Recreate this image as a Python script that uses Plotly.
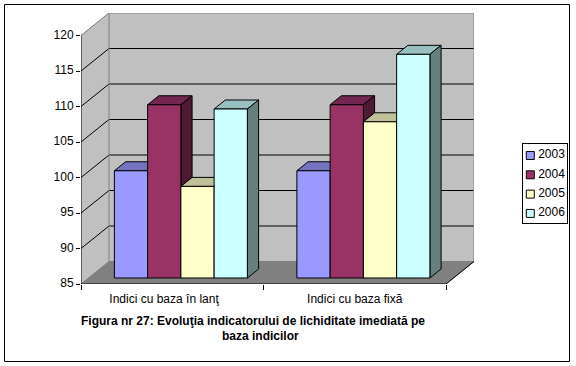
import plotly.graph_objects as go

categories = ["Indici cu baza în lanţ", "Indici cu baza fixă"]
years = ["2003", "2004", "2005", "2006"]
values_2003 = [100.1, 100.1]
values_2004 = [109.4, 109.4]
values_2005 = [97.9, 107.0]
values_2006 = [108.8, 116.5]
y_ticks = [85, 90, 95, 100, 105, 110, 115, 120]
title_line_1 = "Figura nr 27: Evoluţia indicatorului de lichiditate imediată pe"
title_line_2 = "baza indicilor"

series = [values_2003, values_2004, values_2005, values_2006]
front = ["#9999FF", "#993366", "#FFFFCC", "#CCFFFF"]
top = ["#7373BF", "#732650", "#C0C099", "#99C0C0"]
side = ["#4D4D80", "#4D1933", "#808066", "#668080"]

W, H = 576, 366
px_l, px_r, px_t, px_b = 81, 474, 13, 284
PX_X = 182.5      # pixels per category
PX_Y = 7.1        # pixels per value unit
DEPTH_X = 28 / PX_X
DEPTH_Y = 22.5 / PX_Y
Y0, Y1 = y_ticks[0], y_ticks[-1]
N = len(categories)

GROUP_OFFSET = 0.142
BAR_W = 33.25 / PX_X
BAR_FRONT = 0.267   # depth fraction of the bars' front plane
BAR_DEPTH = 0.40    # depth fraction occupied by the bars

fig = go.Figure()


def poly(xs, ys, fill=None, line="#000000", width=1, closed=True):
    if closed:
        xs, ys = list(xs) + [xs[0]], list(ys) + [ys[0]]
    fig.add_trace(go.Scatter(
        x=xs, y=ys, mode="lines", fill="toself" if fill else "none",
        fillcolor=fill, line=dict(color=line, width=width), hoverinfo="skip",
        showlegend=False, cliponaxis=False, xaxis="x", yaxis="y"))


X_END = N
# walls and floor
poly([0, DEPTH_X, DEPTH_X, 0], [Y0, Y0 + DEPTH_Y, Y1 + DEPTH_Y, Y1], "#C0C0C0", "#C0C0C0")
poly([DEPTH_X, X_END + DEPTH_X, X_END + DEPTH_X, DEPTH_X],
     [Y0 + DEPTH_Y, Y0 + DEPTH_Y, Y1 + DEPTH_Y, Y1 + DEPTH_Y], "#C0C0C0", "#C0C0C0")
poly([0, X_END, X_END + DEPTH_X, DEPTH_X], [Y0, Y0, Y0 + DEPTH_Y, Y0 + DEPTH_Y], "#808080", "#808080")
# grid lines
for v in y_ticks[1:-1]:
    poly([0, DEPTH_X, X_END + DEPTH_X], [v, v + DEPTH_Y, v + DEPTH_Y], closed=False)
# gray wall edges
poly([0, DEPTH_X, X_END + DEPTH_X, X_END + DEPTH_X],
     [Y1, Y1 + DEPTH_Y, Y1 + DEPTH_Y, Y0 + DEPTH_Y], line="#808080", closed=False)
poly([DEPTH_X, DEPTH_X], [Y0 + DEPTH_Y, Y1 + DEPTH_Y], line="#808080", closed=False)
# axis lines
poly([0, 0], [Y0, Y1], closed=False)
poly([0, X_END, X_END + DEPTH_X], [Y0, Y0, Y0 + DEPTH_Y], closed=False)

# bars
fx = BAR_FRONT * DEPTH_X
fy = BAR_FRONT * DEPTH_Y
bx = BAR_DEPTH * DEPTH_X
by = BAR_DEPTH * DEPTH_Y
for c in range(N):
    for s, vals in enumerate(series):
        x0 = c + GROUP_OFFSET + s * BAR_W + fx
        x1 = x0 + BAR_W
        b = Y0 + fy
        t = vals[c] + fy
        poly([x0, x0 + bx, x1 + bx, x1], [t, t + by, t + by, t], top[s])
        poly([x1, x1 + bx, x1 + bx, x1], [b, b + by, t + by, t], side[s])
        poly([x0, x1, x1, x0], [b, b, t, t], front[s])

# legend panel
fig.add_trace(go.Scatter(
    x=[0.166] * len(years), y=list(range(len(years))), mode="markers",
    marker=dict(symbol="square", size=8, color=front, line=dict(color="#000000", width=1)),
    hoverinfo="skip", showlegend=False, cliponaxis=False, xaxis="x2", yaxis="y2"))
fig.add_trace(go.Scatter(
    x=[0.345] * len(years), y=list(range(len(years))), mode="text",
    text=years, textposition="middle right",
    textfont=dict(family="Liberation Sans", size=12, color="#000000"),
    hoverinfo="skip", showlegend=False, cliponaxis=False, xaxis="x2", yaxis="y2"))

frame = dict(type="rect", xref="paper", yref="paper", x0=4.5 / W, x1=569.5 / W,
             y0=1 - 361.5 / H, y1=1 - 4.5 / H, line=dict(color="#000000", width=1), layer="below")

fig.update_layout(
    width=W, height=H, margin=dict(l=0, r=0, t=0, b=0, pad=0), autosize=False,
    paper_bgcolor="#FFFFFF", plot_bgcolor="rgba(0,0,0,0)", showlegend=False,
    font=dict(family="Liberation Sans", size=12, color="#000000"),
    title=dict(text="<b>" + title_line_1 + "</b>", x=253 / W, xanchor="center",
               y=1 - 317 / H, yanchor="top", font=dict(family="Liberation Sans", size=12, color="#000000")),
    annotations=[dict(text="<b>" + title_line_2 + "</b>", xref="paper", yref="paper", x=260 / W,
                      y=1 - 336 / H, xanchor="center", yanchor="middle", showarrow=False,
                      font=dict(family="Liberation Sans", size=12, color="#000000"))],
    shapes=[frame],
    xaxis=dict(domain=[px_l / W, px_r / W], range=[0, X_END + DEPTH_X], tickmode="array",
               tickvals=[0.455, 1.5], ticktext=categories, ticks="", showgrid=False, zeroline=False,
               showline=False, anchor="y", automargin=False, ticklabelstandoff=6,
               minor=dict(tickmode="array", tickvals=list(range(N + 1)), ticks="outside", ticklen=5,
                          tickcolor="#000000", showgrid=False),
               tickfont=dict(family="Liberation Sans", size=12)),
    yaxis=dict(domain=[1 - px_b / H, 1 - px_t / H], range=[Y0, Y1 + DEPTH_Y], tickmode="array",
               tickvals=y_ticks, ticks="outside", ticklen=4, tickcolor="#000000", showgrid=False,
               zeroline=False, showline=False, anchor="x", automargin=False, ticklabelshift=-1,
               tickfont=dict(family="Liberation Sans", size=12)),
    xaxis2=dict(domain=[523 / W, 567 / W], range=[0, 1], visible=True, showticklabels=False, ticks="",
                showgrid=False, zeroline=False, showline=True, linecolor="#000000", mirror=True,
                anchor="y2", automargin=False),
    yaxis2=dict(domain=[1 - 222.5 / H, 1 - 143.5 / H], range=[3.47, -0.62], showticklabels=False, ticks="",
                showgrid=False, zeroline=False, showline=True, linecolor="#000000", mirror=True,
                anchor="x2", automargin=False),
)

fig.write_html("out.html", config={"displayModeBar": False},
               post_script="document.body.style.margin='0';")
